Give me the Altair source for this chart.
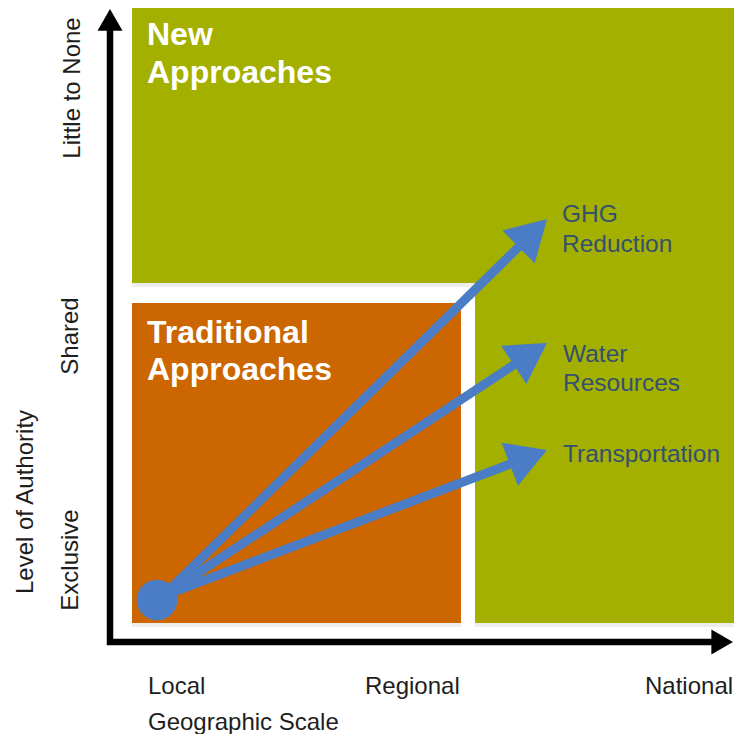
import math
import altair as alt
import pandas as pd

FONT = "Liberation Sans"

# ---- diagram values (diagram coordinate space in page pixels, y grows downward) ----
zone_names = ["New Approaches (upper)", "New Approaches (right)", "Traditional Approaches"]
zone_x0 = [132, 475, 132]
zone_x1 = [742, 742, 461]
zone_y0 = [7, 283, 303]
zone_y1 = [283, 623, 623]
zone_colors = ["#A3B000", "#A3B000", "#CC6600"]

zone_title_lines = ["New", "Approaches", "Traditional", "Approaches"]
zone_title_x = [147, 147, 147, 147]
zone_title_base = [45, 83, 343, 380]

issue_names = ["GHG Reduction", "Water Resources", "Transportation"]
issue_tip_x = [547, 547, 547]
issue_tip_y = [219, 343, 450]
origin_x, origin_y = 163, 596
circle_x, circle_y = 157, 600

issue_label_lines = ["GHG", "Reduction", "Water", "Resources", "Transportation"]
issue_label_x = [562, 562, 563, 563, 563]
issue_label_base = [222, 252, 362, 391, 462]

geo_ticks = ["Local", "Regional", "National"]
geo_tick_x = [148, 365, 645]
geo_tick_base = [694, 694, 694]
geo_title = "Geographic Scale"
geo_title_base = 730

authority_ticks = ["Exclusive", "Shared", "Little to None"]
authority_tick_y = [560, 336, 88]
authority_tick_x = [78, 78, 80]
authority_title = "Level of Authority"

BLUE = "#4A7DC6"
LABEL_BLUE = "#34506F"
INK = "#1E1E1E"

M = 8      # page margin
W = 726    # drawable size of the page (742 window minus margins)

# ---- scales: diagram coordinate == page pixel ----
xs = alt.Scale(domain=[M, M + W], range=[0, W], nice=False, zero=False)
ys = alt.Scale(domain=[M, M + W], range=[0, W], nice=False, zero=False)


def X(f):
    return alt.X(f, type="quantitative", scale=xs, axis=None)


def Y(f):
    return alt.Y(f, type="quantitative", scale=ys, axis=None)


# zones
zones = pd.DataFrame({"name": zone_names, "x0": zone_x0, "x1": zone_x1,
                      "y0": zone_y0, "y1": zone_y1, "color": zone_colors})
shadow = alt.Chart(zones).transform_calculate(y1s="datum.y1 + 4").mark_rect(
    color="#000000", opacity=0.07).encode(
    x=X("x0"), x2="x1", y=Y("y1"), y2="y1s:Q")
rects = alt.Chart(zones).mark_rect().encode(
    x=X("x0"), x2="x1", y=Y("y0"), y2="y1",
    color=alt.Color("color:N", scale=None))

# axes (x-axis arrow ends at the visible page edge)
xtip = M + W - 1
s = 25
axes = pd.DataFrame({"x": [110, 107], "x2": [110, xtip - 0.866 * s + 2],
                     "y": [26, 642], "y2": [645, 642]})
axis_lines = alt.Chart(axes).mark_rule(color="#000000", strokeWidth=6.5).encode(
    x=X("x"), x2="x2", y=Y("y"), y2="y2")

head_rows = []
head_rows.append({"x": 110, "y": 9 + 0.866 * s / 2, "angle": 0, "size": s * s, "color": "#000000"})
head_rows.append({"x": xtip - 0.866 * s / 2, "y": 642, "angle": 90, "size": s * s, "color": "#000000"})

shaft_rows = []
hw = 46  # head width
hl = 0.866 * hw
for name, tx, ty in zip(issue_names, issue_tip_x, issue_tip_y):
    dx, dy = tx - origin_x, ty - origin_y
    L = math.hypot(dx, dy)
    ux, uy = dx / L, dy / L
    ang = math.degrees(math.atan2(dx, -dy))
    head_rows.append({"x": tx - ux * hl / 2, "y": ty - uy * hl / 2, "angle": ang,
                      "size": hw * hw, "color": BLUE})
    shaft_rows.append({"name": name, "x": origin_x, "y": origin_y,
                       "x2": tx - ux * (hl - 4), "y2": ty - uy * (hl - 4)})

heads = alt.Chart(pd.DataFrame(head_rows)).mark_point(
    shape="triangle-up", filled=True, opacity=1, strokeWidth=0).encode(
    x=X("x"), y=Y("y"),
    angle=alt.Angle("angle:Q", scale=None),
    size=alt.Size("size:Q", scale=None),
    color=alt.Color("color:N", scale=None))

shafts = alt.Chart(pd.DataFrame(shaft_rows)).mark_rule(color=BLUE, strokeWidth=9).encode(
    x=X("x"), x2="x2", y=Y("y"), y2="y2")

circle = alt.Chart(pd.DataFrame({"x": [circle_x], "y": [circle_y]})).mark_point(
    shape="circle", filled=True, opacity=1, color=BLUE, size=1650, strokeWidth=0).encode(
    x=X("x"), y=Y("y"))

# texts
titles = alt.Chart(pd.DataFrame({"t": zone_title_lines, "x": zone_title_x, "y": zone_title_base})).mark_text(
    font=FONT, fontSize=32, fontWeight="bold", color="#FFFFFF", align="left", baseline="alphabetic").encode(
    x=X("x"), y=Y("y"), text="t:N")

issue_labels = alt.Chart(pd.DataFrame({"t": issue_label_lines, "x": issue_label_x, "y": issue_label_base})).mark_text(
    font=FONT, fontSize=24.5, color=LABEL_BLUE, align="left", baseline="alphabetic").encode(
    x=X("x"), y=Y("y"), text="t:N")

geo = alt.Chart(pd.DataFrame({"t": geo_ticks + [geo_title], "x": geo_tick_x + [148],
                              "y": geo_tick_base + [geo_title_base]})).mark_text(
    font=FONT, fontSize=24, color=INK, align="left", baseline="alphabetic").encode(
    x=X("x"), y=Y("y"), text="t:N")

auth = alt.Chart(pd.DataFrame({"t": authority_ticks + [authority_title],
                               "x": authority_tick_x + [33], "y": authority_tick_y + [502]})).mark_text(
    font=FONT, fontSize=24, color=INK, align="center", baseline="alphabetic", angle=270).encode(
    x=X("x"), y=Y("y"), text="t:N")

chart = alt.layer(shadow, rects, axis_lines, shafts, circle, heads, titles, issue_labels, geo, auth).properties(
    width=W, height=W, padding=0,
    autosize=alt.AutoSizeParams(type="none"),
).configure_view(strokeWidth=0)

chart.save("out.html", embed_options={"renderer": "svg", "actions": False})
